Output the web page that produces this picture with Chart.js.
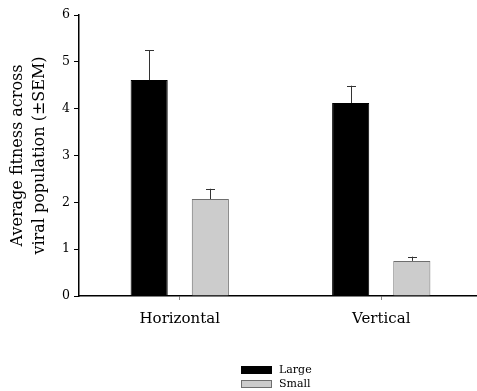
<!DOCTYPE html>
<html>
<head>
<meta charset="utf-8">
<script src="https://cdn.jsdelivr.net/npm/chart.js@4"></script>
<style>
    html, body { margin: 0; padding: 0; background: #fff; overflow: hidden; }
    #wrap { position: relative; width: 484px; height: 391px; }
</style>
</head>
<body>
<div id="wrap"><canvas id="fitnessChart" width="484" height="391"></canvas></div>
<script>
// Data
const categories = ['Horizontal', 'Vertical'];
const seriesNames = ['Large', 'Small'];
const largeValues = [4.61, 4.12];
const smallValues = [2.07, 0.75];
const largeSem = [0.64, 0.37];
const smallSem = [0.22, 0.09];
const yTicks = [0, 1, 2, 3, 4, 5, 6];

const serif = '"DejaVu Serif", "Liberation Serif", serif';

// Upward-only error bars, drawn through the chart's own scales
const errorBars = {
    id: 'errorBars',
    afterDatasetsDraw(chart) {
        const ctx = chart.ctx;
        const yScale = chart.scales.y;
        ctx.save();
        ctx.strokeStyle = '#333';
        ctx.lineWidth = 1;
        chart.data.datasets.forEach((ds, di) => {
            const meta = chart.getDatasetMeta(di);
            meta.data.forEach((bar, i) => {
                const top = yScale.getPixelForValue(ds.data[i]);
                const end = yScale.getPixelForValue(ds.data[i] + ds.sem[i]);
                const x = Math.round(bar.x) + 0.5;
                ctx.beginPath();
                ctx.moveTo(x, top);
                ctx.lineTo(x, end);
                ctx.moveTo(x - 4.5, Math.round(end) + 0.5);
                ctx.lineTo(x + 4.5, Math.round(end) + 0.5);
                ctx.stroke();
            });
        });
        ctx.restore();
    }
};

// Stacked legend under the plot
const stackedLegend = {
    id: 'stackedLegend',
    afterDraw(chart) {
        const ctx = chart.ctx;
        ctx.save();
        ctx.font = '11px ' + serif;
        ctx.textBaseline = 'middle';
        chart.data.datasets.forEach((ds, i) => {
            const y = 366 + i * 14;
            ctx.fillStyle = ds.backgroundColor;
            ctx.fillRect(241, y, 31, 8);
            ctx.strokeStyle = ds.borderColor;
            ctx.lineWidth = 1;
            ctx.strokeRect(241.5, y + 0.5, 30, 7);
            ctx.fillStyle = '#000';
            ctx.fillText(ds.label, 279, y + 4);
        });
        ctx.restore();
    }
};

new Chart(document.getElementById('fitnessChart'), {
    type: 'bar',
    data: {
        labels: categories,
        datasets: [{
            label: seriesNames[0],
            data: largeValues,
            sem: largeSem,
            backgroundColor: '#000000',
            borderColor: '#000000',
            borderWidth: 1
        }, {
            label: seriesNames[1],
            data: smallValues,
            sem: smallSem,
            backgroundColor: '#cccccc',
            borderColor: '#6e6e6e',
            borderWidth: 1
        }]
    },
    options: {
        responsive: false,
        animation: false,
        categoryPercentage: 0.607,
        barPercentage: 0.607,
        layout: { padding: { top: 15, right: 2, left: 0, bottom: 0 } },
        plugins: {
            legend: { display: false },
            tooltip: { enabled: false }
        },
        scales: {
            x: {
                offset: true,
                grid: { offset: false, drawOnChartArea: false, drawTicks: true, tickLength: 4, color: '#888' },
                border: { display: true, color: '#000', width: 1.5 },
                ticks: { color: '#000', padding: 10, font: { family: serif, size: 15 } },
                afterFit(scale) { scale.height = 95; }
            },
            y: {
                min: 0,
                max: 6,
                afterBuildTicks(scale) { scale.ticks = yTicks.map(v => ({ value: v })); },
                grid: { drawOnChartArea: false, drawTicks: true, tickLength: 5, color: '#000' },
                border: { display: true, color: '#000', width: 1.5 },
                ticks: { color: '#000', padding: 4, font: { family: serif, size: 12.5 } },
                title: {
                    display: true,
                    text: ['Average fitness across', 'viral population (\u00b1SEM)'],
                    color: '#000',
                    font: { family: serif, size: 16, lineHeight: 1.35 },
                    padding: { top: 7, bottom: 0 }
                },
                afterFit(scale) { scale.width = 79; }
            }
        }
    },
    plugins: [errorBars, stackedLegend]
});
</script>
</body>
</html>
